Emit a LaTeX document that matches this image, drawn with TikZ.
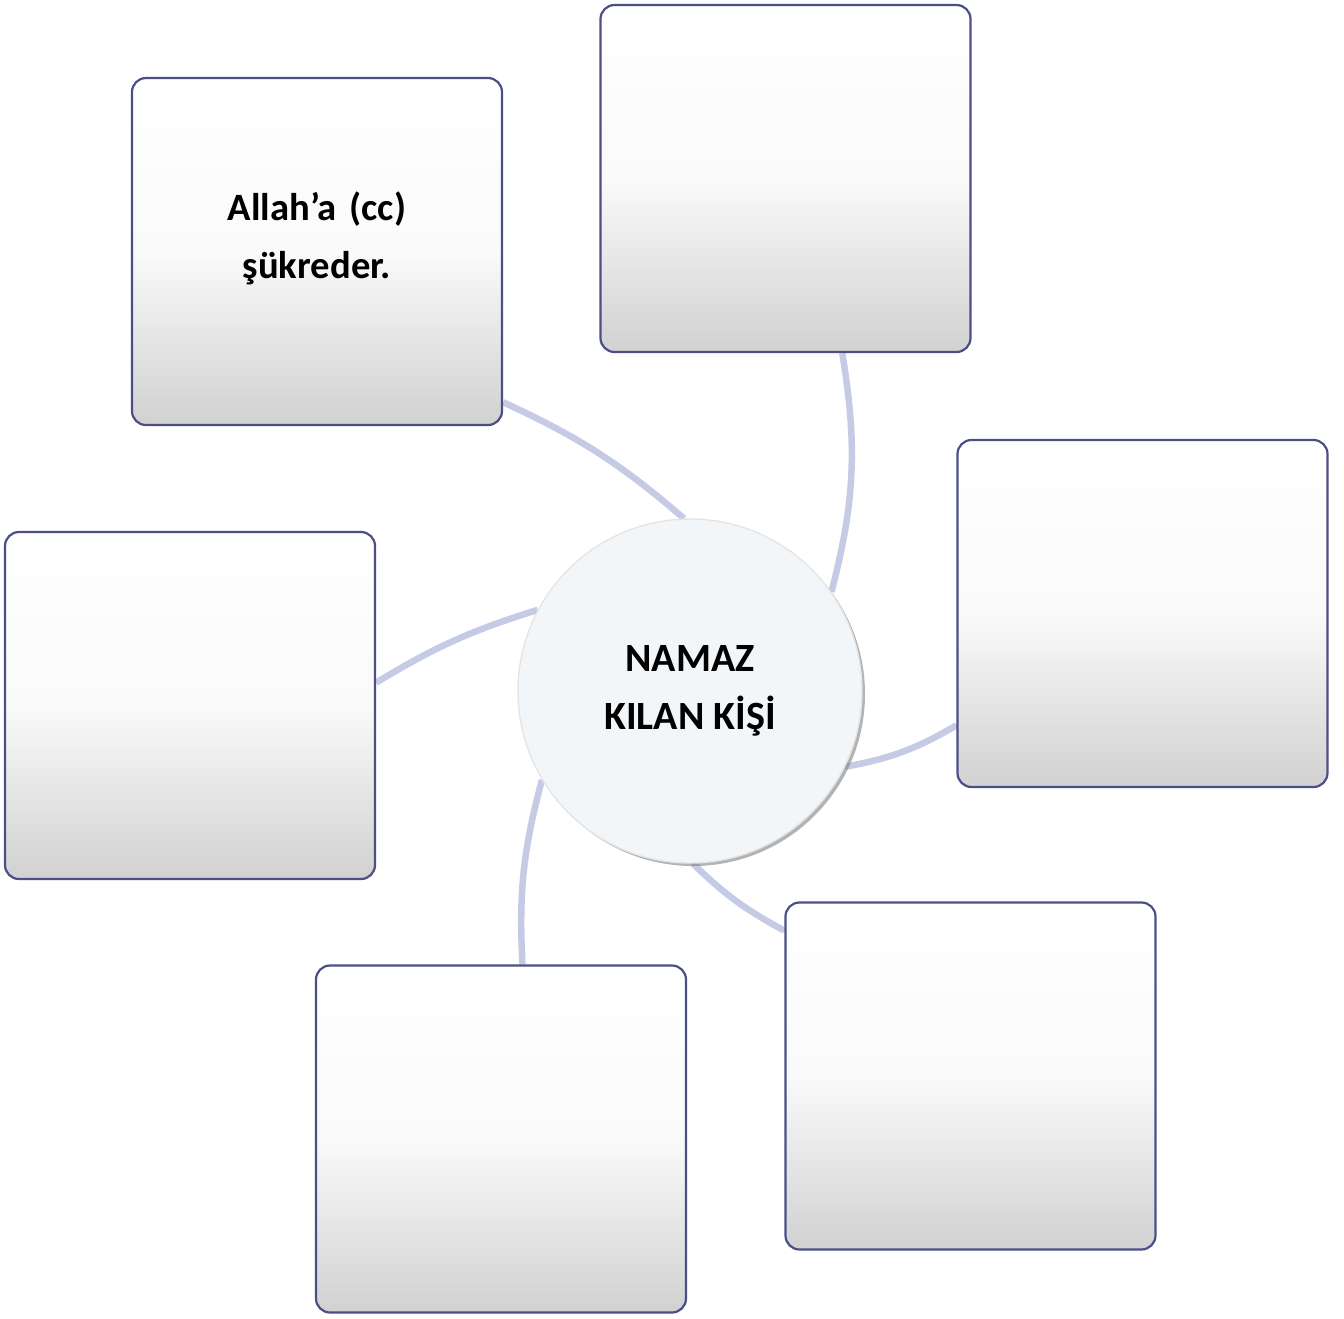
\documentclass[tikz,border=0pt]{standalone}
\usepackage{fontspec}
\setmainfont{Carlito}
\usetikzlibrary{shadows,backgrounds}

\definecolor{boxline}{HTML}{4B4F86}
\definecolor{spokeblue}{HTML}{C5CBE4}
\definecolor{hubfill}{HTML}{F3F6F9}

\begin{document}
\begin{tikzpicture}[
    box/.style={draw=boxline,line width=0.22mm,rounded corners=1.4mm,
      minimum width=37mm,minimum height=34.7mm,
      top color=white,bottom color=black!18,middle color=black!2},
    boxtext/.style={text width=30mm,align=center,
      font=\fontsize{11}{16.5}\selectfont\bfseries},
    hub/.style={circle,minimum size=34.4mm,fill=hubfill,draw=black!10,
      drop shadow={shadow xshift=0.3mm,shadow yshift=-0.3mm,fill=black!50,opacity=0.6},
      align=center,font=\fontsize{11.4}{16.5}\selectfont\bfseries},
    spoke/.style={draw=spokeblue,line width=0.65mm}]
    \useasboundingbox (0,0) rectangle (134.4mm,-131.8mm);

    \node[box] (B1) at (31.7mm,-25.15mm) {};
    \node[box] (B2) at (78.55mm,-17.85mm) {};
    \node[box] (B3) at (114.25mm,-61.35mm) {};
    \node[box] (B4) at (19.0mm,-70.55mm) {};
    \node[box] (B5) at (97.05mm,-107.6mm) {};
    \node[box] (B6) at (50.1mm,-113.9mm) {};

    \node[boxtext] (T1) at (31.7mm,-23.8mm) {Allah’a (cc)\\şükreder.};

    \node[hub] (hub) at (69.0mm,-69.1mm) {NAMAZ\\KILAN KİŞİ};

    \begin{scope}[on background layer]
      \draw[spoke] (B1.-39) to[bend left=8] (hub.92);
      \draw[spoke] (B2.-72) to[bend left=12] (hub.35);
      \draw[spoke] (B3.-149) to[bend left=10] (hub.-26);
      \draw[spoke] (B5.142) to[bend left=8] (hub.-89);
      \draw[spoke] (B6.83) to[bend left=9] (hub.-149);
      \draw[spoke] (B4.7) to[bend left=7] (hub.152);
    \end{scope}
  \end{tikzpicture}
\end{document}
